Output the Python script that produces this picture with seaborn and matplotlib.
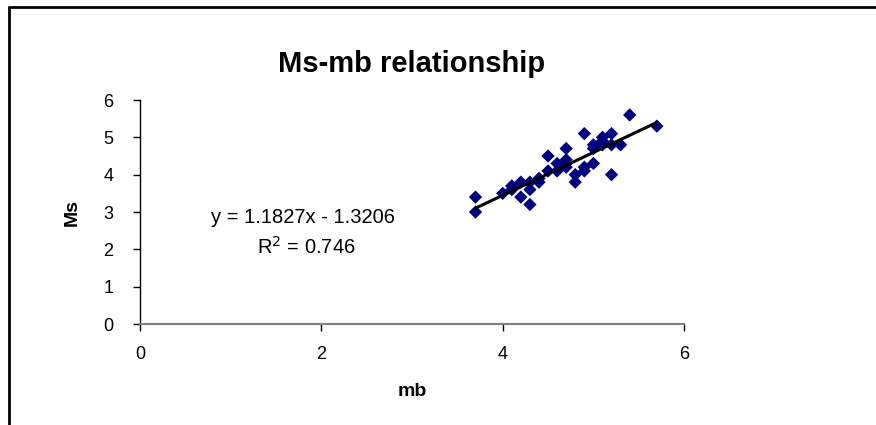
import seaborn as sns
import matplotlib.pyplot as plt
import numpy as np
import pandas as pd
from matplotlib.lines import Line2D

# body-wave (mb) vs surface-wave (Ms) magnitudes
mb = [3.7, 3.7, 4.0, 4.1, 4.1, 4.2, 4.2, 4.3, 4.3, 4.3, 4.4, 4.4, 4.5, 4.5,
      4.6, 4.6, 4.7, 4.7, 4.7, 4.7, 4.8, 4.8, 4.9, 4.9, 4.9, 5.0, 5.0, 5.1,
      5.1, 5.2, 5.2, 5.2, 5.3, 5.4, 5.7, 5.1, 5.0]
ms = [3.4, 3.0, 3.5, 3.7, 3.6, 3.8, 3.4, 3.2, 3.6, 3.8, 3.9, 3.8, 4.5, 4.1,
      4.3, 4.1, 4.4, 4.7, 4.2, 4.3, 4.0, 3.8, 5.1, 4.1, 4.2, 4.3, 4.7, 4.8,
      5.0, 5.1, 4.8, 4.0, 4.8, 5.6, 5.3, 4.9, 4.8]

x_ticks = [0, 2, 4, 6]
y_ticks = [0, 1, 2, 3, 4, 5, 6]

title = "Ms-mb relationship"
equation = "y = 1.1827x - 1.3206"
r_squared = "R$^2$ = 0.746"

df = pd.DataFrame({"mb": mb, "Ms": ms})

sns.set_style("white")
plt.rcParams["font.family"] = ["Liberation Sans", "DejaVu Sans"]
plt.rcParams["text.color"] = "black"
plt.rcParams["axes.labelcolor"] = "black"
plt.rcParams["xtick.color"] = "black"
plt.rcParams["ytick.color"] = "black"

fig = plt.figure(figsize=(8.76, 4.25), dpi=100)
ax = fig.add_axes([0.1598, 0.2376, 0.6211, 0.5271])

sns.scatterplot(data=df, x="mb", y="Ms", marker="D", s=46, color="#000080",
                edgecolor="none", ax=ax, zorder=2)
sns.regplot(data=df, x="mb", y="Ms", scatter=False, ci=None, ax=ax,
            line_kws={"color": "black", "linewidth": 2.2, "zorder": 3})

ax.set_xlim(0, 6)
ax.set_ylim(0, 6)
ax.set_xticks(x_ticks)
ax.set_yticks(y_ticks)
ax.tick_params(axis="both", labelsize=13, length=5, width=1, color="black",
               direction="out", bottom=True, left=True, pad=14)
ax.tick_params(axis="x", pad=11)

for side in ["top", "right"]:
    ax.spines[side].set_visible(False)
ax.spines["left"].set_color("black")
ax.spines["left"].set_linewidth(1)
ax.spines["bottom"].set_color("#808080")
ax.spines["bottom"].set_linewidth(1.5)

ax.set_title(title, fontsize=21, fontweight="bold", pad=20)
ax.set_xlabel("mb", fontsize=14, fontweight="bold", labelpad=14)
ax.set_ylabel("Ms", fontsize=14, fontweight="bold", labelpad=16)

ax.text(1.80, 2.84, equation, fontsize=14.5, ha="center", va="center")
ax.text(1.83, 2.06, r_squared, fontsize=14.5, ha="center", va="center")

# partial outer frame (top and left edges)
fig.add_artist(Line2D([9 / 876, 1], [1 - 7 / 425, 1 - 7 / 425],
                      color="black", linewidth=2, transform=fig.transFigure))
fig.add_artist(Line2D([9 / 876, 9 / 876], [0, 1 - 7 / 425],
                      color="black", linewidth=2, transform=fig.transFigure))

fig.savefig("out.png", dpi=100)
